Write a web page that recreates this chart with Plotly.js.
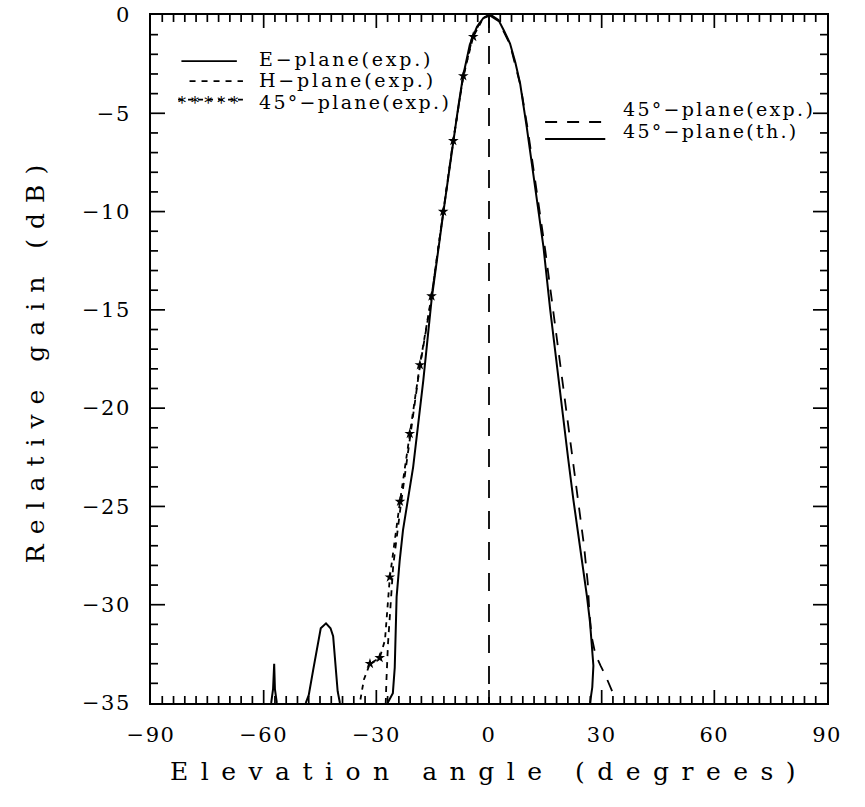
<!DOCTYPE html>
<html>
<head>
<meta charset="utf-8">
<script src="https://cdn.plot.ly/plotly-3.0.1.min.js"></script>
<style>
  html, body { margin: 0; padding: 0; background: #fff; }
  #chart { width: 865px; height: 807px; }
  .xtitle { letter-spacing: 12.5px; }
  .ytitle { letter-spacing: 10px; }
  .xtick text, .ytick text { letter-spacing: 1.5px; }
</style>
</head>
<body>
<div id="chart"></div>
<script>
// ---- Data ----
// E-plane (exp.), solid: left side of main lobe plus far side lobes
const ePlaneX = [-58.0, -57.5, -57.2, -57.0, -56.5, null,
  -48.8, -48.0, -46.8, -45.6, -44.8, -43.4, -42.2, -41.5, -40.8, -40.3, -39.7, null,
  -27.0, -25.6, -25.1, -24.9, -24.6, -23.8, -22.9, -20.2, -17.5, -15.3, -13.7, -12.2, -10.8, -9.5, -8.2, -6.9, -5.1, -3.2, -1.5, 0.5];
const ePlaneY = [-35.0, -34.3, -33.0, -34.3, -35.0, null,
  -35.0, -34.6, -33.3, -32.0, -31.2, -30.95, -31.2, -31.6, -33.0, -34.4, -35.0, null,
  -35.0, -34.5, -33.2, -31.5, -29.6, -27.8, -26.2, -23.0, -18.6, -14.5, -12.1, -10.1, -8.2, -6.4, -4.7, -3.1, -1.5, -0.6, -0.15, 0.0];

// H-plane (exp.), short dash: left side
const hPlaneX = [0.0, -2.0, -4.5, -7.0, -9.7, -12.5, -15.5, -18.5, -21.0, -23.4, -25.5, -26.2, -26.9, -27.3, -27.5];
const hPlaneY = [0.0, -0.2, -1.2, -3.3, -6.6, -10.5, -14.6, -18.0, -21.4, -24.8, -28.0, -30.0, -32.0, -33.8, -35.0];

// 45°-plane (exp.), dashed line with star markers: left side
const p45LeftX = [0.0, -1.5, -4.2, -6.85, -9.5, -12.2, -15.3, -18.4, -21.1, -23.7, -26.4, -27.0, -27.7, -29.1, -31.7, -33.3, -34.4];
const p45LeftY = [0.0, -0.15, -1.1, -3.1, -6.4, -10.0, -14.3, -17.8, -21.3, -24.75, -28.6, -30.3, -31.8, -32.7, -33.0, -33.8, -35.0];
const p45StarX = [-4.2, -6.85, -9.5, -12.2, -15.3, -18.4, -21.1, -23.7, -26.4, -29.1, -31.7];
const p45StarY = [-1.1, -3.1, -6.4, -10.0, -14.3, -17.8, -21.3, -24.75, -28.6, -32.7, -33.0];

// 45°-plane (exp.), long dash: right side
const p45RightX = [0.0, 2.5, 5.6, 8.4, 10.3, 12.6, 15.0, 17.2, 19.5, 21.8, 23.4, 24.3, 25.3, 26.3, 26.7, 27.3, 28.3, 29.7, 31.0, 32.8];
const p45RightY = [0.0, -0.3, -1.5, -3.6, -5.8, -8.8, -12.0, -15.2, -18.5, -21.8, -24.0, -25.3, -27.0, -28.9, -30.3, -31.6, -32.5, -33.1, -33.6, -34.4];

// 45°-plane (th.), solid: right side
const p45ThX = [0.5, 2.5, 4.0, 5.6, 7.0, 8.3, 10.05, 12.3, 14.5, 16.3, 18.0, 19.6, 21.1, 22.5, 23.8, 25.1, 26.1, 26.9, 27.5, 27.8, 27.5, 26.9];
const p45ThY = [0.0, -0.25, -0.8, -1.45, -2.4, -3.5, -5.7, -8.75, -11.8, -15.0, -17.8, -20.3, -22.6, -24.7, -26.5, -28.1, -29.6, -30.9, -32.2, -33.1, -34.2, -35.0];

// Boresight reference line
const refX = [0, 0];
const refY = [0, -35];

// Axis ticks and legend labels
const xTicks = [-90, -60, -30, 0, 30, 60, 90];
const yTicks = [-35, -30, -25, -20, -15, -10, -5, 0];
const xMinorStep = 3;
const yMinorStep = 1;
const legendLeft = ["E\u2212plane(exp.)", "H\u2212plane(exp.)", "45\u00B0\u2212plane(exp.)"];
const legendRight = ["45\u00B0\u2212plane(exp.)", "45\u00B0\u2212plane(th.)"];

const black = "#000";
const serif = "DejaVu Serif, serif";

const xRange = [xTicks[0], xTicks[xTicks.length - 1]];
const yRange = [yTicks[0], yTicks[yTicks.length - 1]];

const W = 865, H = 807;
const M = { l: 151, r: 38, t: 15, b: 104 };
const plotW = W - M.l - M.r, plotH = H - M.t - M.b;

// Inside tick marks on all four sides, derived from the tick arrays and drawn
// through the axes' own scales (length given in px, converted to data units)
const tickMarkX = [], tickMarkY = [];
const xSpan = xRange[1] - xRange[0], ySpan = yRange[1] - yRange[0];
const nX = Math.round(xSpan / xMinorStep);
for (let i = 1; i < nX; i++) {
  const v = xRange[0] + i * xMinorStep;
  const major = xTicks.some(t => Math.abs(t - v) < 1e-6);
  const d = (major ? 13 : 7) / plotH * ySpan;
  tickMarkX.push(v, v, null, v, v, null);
  tickMarkY.push(yRange[0], yRange[0] + d, null, yRange[1], yRange[1] - d, null);
}
const nY = Math.round(ySpan / yMinorStep);
for (let i = 1; i < nY; i++) {
  const v = yRange[0] + i * yMinorStep;
  const major = yTicks.some(t => Math.abs(t - v) < 1e-6);
  const d = (major ? 14 : 7) / plotW * xSpan;
  tickMarkX.push(xRange[0], xRange[0] + d, null, xRange[1], xRange[1] - d, null);
  tickMarkY.push(v, v, null, v, v, null);
}

const traces = [
  { x: tickMarkX, y: tickMarkY, mode: "lines", line: { color: black, width: 1.7 }, connectgaps: false,
    hoverinfo: "skip", name: "tick marks" },
  { x: ePlaneX, y: ePlaneY, mode: "lines", line: { color: black, width: 2 }, connectgaps: false, name: legendLeft[0] },
  { x: hPlaneX, y: hPlaneY, mode: "lines", line: { color: black, width: 1.8, dash: "6px,6px" }, name: legendLeft[1] },
  { x: p45LeftX, y: p45LeftY, mode: "lines", line: { color: black, width: 1.8, dash: "5px,5px" }, name: legendLeft[2] },
  { x: p45StarX, y: p45StarY, mode: "markers", marker: { symbol: "star", size: 8, color: black }, name: legendLeft[2] + " markers" },
  { x: p45RightX, y: p45RightY, mode: "lines", line: { color: black, width: 1.8, dash: "12px,10px" }, name: legendRight[0] },
  { x: p45ThX, y: p45ThY, mode: "lines", line: { color: black, width: 2 }, name: legendRight[1] },
  { x: refX, y: refY, mode: "lines", line: { color: black, width: 1.8, dash: "18px,13px" }, name: "boresight" }
];

function legText(t, x, y, sp) {
  return { text: '<span style="letter-spacing:' + sp + 'px">' + t + '</span>',
           xref: "paper", yref: "paper", x: x, y: y, xanchor: "left", yanchor: "middle",
           showarrow: false, font: { family: serif, size: 19, color: black }, borderpad: 0 };
}
function keyLine(x0, x1, y, dash) {
  return { type: "line", xref: "paper", yref: "paper", x0: x0, x1: x1, y0: y, y1: y,
           line: { color: black, width: 1.8, dash: dash } };
}

const layout = {
  width: W, height: H,
  margin: M,
  showlegend: false,
  font: { family: serif, color: black },
  xaxis: {
    range: xRange,
    tickmode: "linear", tick0: xTicks[0], dtick: xTicks[1] - xTicks[0],
    ticks: "",
    showline: true, linecolor: black, linewidth: 2, mirror: true,
    showgrid: false, zeroline: false, ticklabelstandoff: 12,
    tickfont: { family: serif, size: 21, color: black },
    title: { text: "Elevation angle (degrees)", font: { family: serif, size: 25, color: black }, standoff: 16 }
  },
  yaxis: {
    range: yRange,
    tickmode: "linear", tick0: yTicks[0], dtick: yTicks[1] - yTicks[0],
    ticks: "",
    showline: true, linecolor: black, linewidth: 2, mirror: true,
    showgrid: false, zeroline: false, ticklabelstandoff: 14,
    tickfont: { family: serif, size: 21, color: black },
    title: { text: "Relative gain (dB)", font: { family: serif, size: 25, color: black }, standoff: 30 }
  },
  annotations: [
    legText(legendLeft[0], 0.158, 0.9360, 2.8),
    legText(legendLeft[1], 0.158, 0.9048, 2.8),
    legText(legendLeft[2], 0.158, 0.8735, 2.3),
    { text: "* * * * *", xref: "paper", yref: "paper", x: 0.039, y: 0.872, xanchor: "left", yanchor: "middle",
      showarrow: false, font: { family: serif, size: 16, color: black }, borderpad: 0 },
    legText(legendRight[0], 0.697, 0.8634, 2.3),
    legText(legendRight[1], 0.697, 0.8314, 2.3)
  ],
  shapes: [
    keyLine(0.045, 0.127, 0.933, "solid"),
    keyLine(0.057, 0.136, 0.904, "6px,6px"),
    keyLine(0.040, 0.136, 0.877, "5px,5px"),
    keyLine(0.583, 0.672, 0.8445, "12px,10px"),
    keyLine(0.583, 0.672, 0.8198, "solid")
  ]
};

Plotly.newPlot("chart", traces, layout, { displayModeBar: false });
</script>
</body>
</html>
